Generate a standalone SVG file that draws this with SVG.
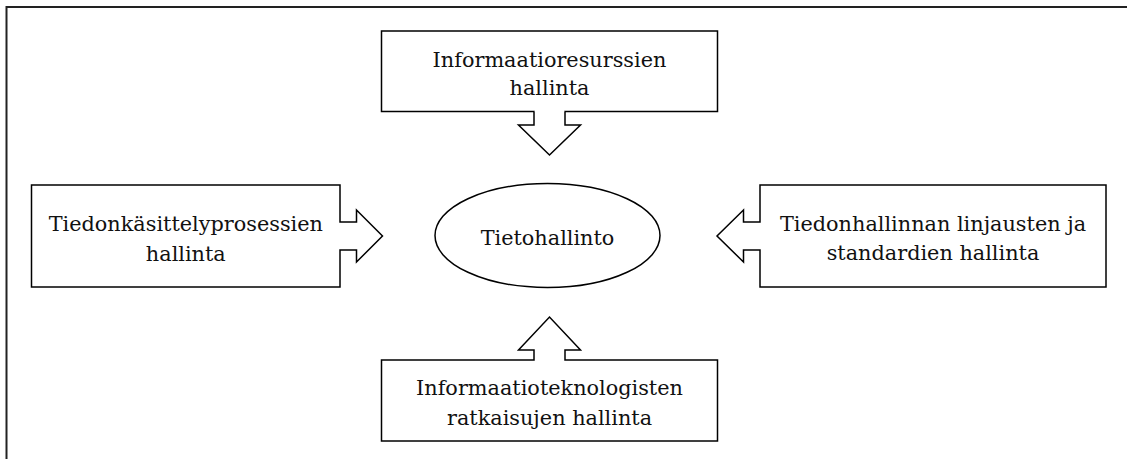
<svg xmlns="http://www.w3.org/2000/svg" width="1127" height="459" viewBox="0 0 1127 459">
<style>
.box{fill:#fff;stroke:#000;stroke-width:1.5}
.ar{fill:#fff;stroke:#000;stroke-width:1.5;stroke-linejoin:miter}
.cover{fill:#fff;stroke:none}
.t{font-family:"DejaVu Serif","Liberation Serif",serif;font-size:20.8px;fill:#111;text-anchor:middle}
</style>
<rect width="1127" height="459" fill="#fff"/>
<path d="M6.5,459 V7 H1127" fill="none" stroke="#222" stroke-width="2"/>
<g id="node-top">
<rect class="box" x="381.5" y="31" width="336" height="80.5"/>
<text class="t" x="549.5" y="66.5">Informaatioresurssien</text>
<text class="t" x="549.5" y="95">hallinta</text>
</g>
<g id="node-left">
<rect class="box" x="31.5" y="185" width="308.5" height="102"/>
<text class="t" x="185.8" y="231">Tiedonkäsittelyprosessien</text>
<text class="t" x="185.8" y="261">hallinta</text>
</g>
<g id="node-right">
<rect class="box" x="760" y="185" width="346" height="102"/>
<text class="t" x="933" y="231">Tiedonhallinnan linjausten ja</text>
<text class="t" x="933" y="260">standardien hallinta</text>
</g>
<g id="node-bottom">
<rect class="box" x="381.5" y="360" width="336" height="81"/>
<text class="t" x="549.5" y="395">Informaatioteknologisten</text>
<text class="t" x="549.5" y="425">ratkaisujen hallinta</text>
</g>
<g id="node-center">
<ellipse class="box" cx="547.5" cy="235.5" rx="112.5" ry="52"/>
<text class="t" x="547.5" y="245">Tietohallinto</text>
</g>
<g id="connectors">
<path class="cover" d="M534.75,109 V125 H518.5 L549.5,155 L580.5,125 H564.25 V109 Z"/>
<path class="ar" d="M534,111.5 V125 H518.5 L549.5,155 L580.5,125 H565 V111.5"/>
<path class="cover" d="M534.75,362.5 V350 H518.5 L549.5,317 L580.5,350 H564.25 V362.5 Z"/>
<path class="ar" d="M534,360 V350 H518.5 L549.5,317 L580.5,350 H565 V360"/>
<path class="cover" d="M337.5,222.75 H356.5 V210 L382.5,236 L356.5,262 V249.25 H337.5 Z"/>
<path class="ar" d="M340,222 H356.5 V210 L382.5,236 L356.5,262 V250 H340"/>
<path class="cover" d="M762.5,222.75 H743.5 V210 L717,236 L743.5,262 V249.25 H762.5 Z"/>
<path class="ar" d="M760,222 H743.5 V210 L717,236 L743.5,262 V250 H760"/>
</g>
</svg>
